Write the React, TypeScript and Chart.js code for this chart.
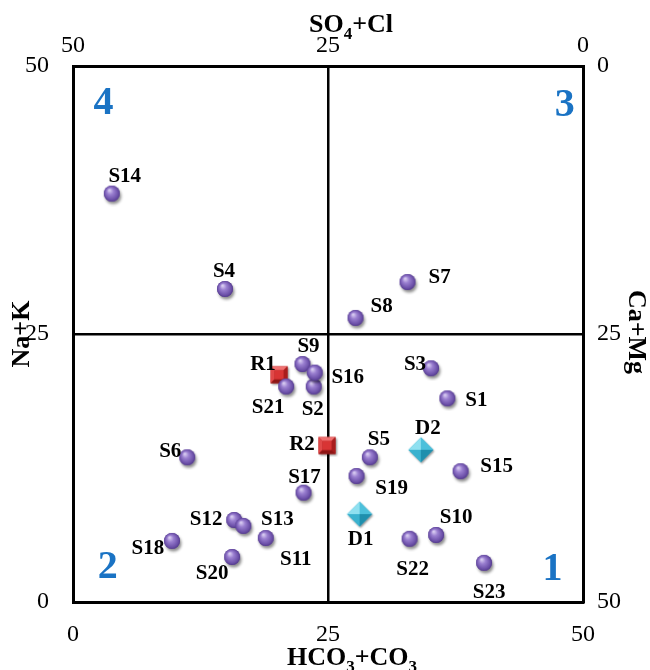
import React, { useEffect, useRef } from "react";
import { Chart, registerables } from "chart.js";

Chart.register(...registerables);

// ---- data ----
const sampleNames = ["S1","S2","S3","S4","S5","S6","S7","S8","S9","S10","S11","S12","S13","S14","S15","S16","S17","S18","S19","S20","S21","S22","S23"];
const sampleX = [36.7,23.6,35.1,14.9,29.1,11.2,32.8,27.7,22.5,35.6,18.9,15.8,16.7,3.8,38.0,23.7,22.6,9.7,27.8,15.6,20.9,33.0,40.3];
const sampleY = [19.0,20.1,21.8,29.2,13.5,13.5,29.85,26.5,22.2,6.25,5.97,7.65,7.1,38.1,12.2,21.4,10.2,5.7,11.75,4.2,20.1,5.9,3.65];
const riverNames = ["R1","R2"];
const riverX = [20.2,24.9];
const riverY = [21.2,14.6];
const drainNames = ["D1","D2"];
const drainX = [28.1,34.1];
const drainY = [8.2,14.2];
const tickValues = [0,25,50];
const quadrantNames = ["1","2","3","4"];

// label placement (pixel offsets of the label centre from its marker)
const labelOffsets: Record<string, [number, number]> = {
  S1:[29,2],S2:[-1,23],S3:[-16,-4],S4:[-1,-17],S5:[9,-18],S6:[-17,-6],S7:[32,-4],S8:[26,-11],
  S9:[6,-17],S10:[20,-17],S11:[30,22],S12:[-28,0],S13:[34,-6],S14:[13,-17],S15:[36,-5],S16:[33,5],
  S17:[1,-15],S18:[-24,8],S19:[35,13],S20:[-20,17],S21:[-18,21],S22:[3,31],S23:[5,30],
  R1:[-16,-10],R2:[-25,-1],D1:[1,25],D2:[7,-21],
};

const SERIF = '"Liberation Serif", "Times New Roman", serif';

function makeSphere(): HTMLCanvasElement {
  const c = document.createElement("canvas");
  c.width = 26; c.height = 26;
  const g = c.getContext("2d")!;
  g.save();
  g.shadowColor = "rgba(0,0,0,0.45)";
  g.shadowBlur = 3;
  g.shadowOffsetX = 1.5;
  g.shadowOffsetY = 2.5;
  g.beginPath();
  g.arc(13, 13, 8, 0, Math.PI * 2);
  g.fillStyle = "#6a4ea6";
  g.fill();
  g.restore();
  const grad = g.createRadialGradient(10.5, 9.5, 0.5, 13, 13, 8.5);
  grad.addColorStop(0, "#d9cdf2");
  grad.addColorStop(0.35, "#9a7fd0");
  grad.addColorStop(0.8, "#6b4fa8");
  grad.addColorStop(1, "#4d3582");
  g.beginPath();
  g.arc(13, 13, 8, 0, Math.PI * 2);
  g.fillStyle = grad;
  g.fill();
  return c;
}

function poly(g: CanvasRenderingContext2D, pts: number[][], col: string) {
  g.beginPath();
  g.moveTo(pts[0][0], pts[0][1]);
  for (let i = 1; i < pts.length; i++) g.lineTo(pts[i][0], pts[i][1]);
  g.closePath();
  g.fillStyle = col;
  g.fill();
}

function makeSquare(): HTMLCanvasElement {
  const c = document.createElement("canvas");
  c.width = 24; c.height = 24;
  const g = c.getContext("2d")!;
  const s = 17, o = 3.5;
  g.save();
  g.shadowColor = "rgba(0,0,0,0.4)";
  g.shadowBlur = 2;
  g.shadowOffsetX = 1;
  g.shadowOffsetY = 1.5;
  g.fillStyle = "#b32424";
  g.fillRect(o, o, s, s);
  g.restore();
  const inset = 4;
  const a = o, b = o + s;
  poly(g, [[a,a],[b,a],[b-inset,a+inset],[a+inset,a+inset]], "#f07070");
  poly(g, [[a,a],[a+inset,a+inset],[a+inset,b-inset],[a,b]], "#e04848");
  poly(g, [[b,a],[b,b],[b-inset,b-inset],[b-inset,a+inset]], "#a81c1c");
  poly(g, [[a,b],[a+inset,b-inset],[b-inset,b-inset],[b,b]], "#8e1515");
  g.fillStyle = "#d83434";
  g.fillRect(a + inset, a + inset, s - 2 * inset, s - 2 * inset);
  return c;
}

function makeDiamond(): HTMLCanvasElement {
  const c = document.createElement("canvas");
  c.width = 30; c.height = 30;
  const g = c.getContext("2d")!;
  const cx = 15, cy = 15, r = 12.5;
  g.save();
  g.shadowColor = "rgba(0,0,0,0.4)";
  g.shadowBlur = 2;
  g.shadowOffsetX = 1;
  g.shadowOffsetY = 1.5;
  g.beginPath();
  g.moveTo(cx, cy - r); g.lineTo(cx + r, cy); g.lineTo(cx, cy + r); g.lineTo(cx - r, cy); g.closePath();
  g.fillStyle = "#2aa6c4";
  g.fill();
  g.restore();
  poly(g, [[cx,cy-r],[cx-r,cy],[cx,cy]], "#8fe0f0");
  poly(g, [[cx,cy-r],[cx+r,cy],[cx,cy]], "#4cc0db");
  poly(g, [[cx-r,cy],[cx,cy+r],[cx,cy]], "#3ab2cf");
  poly(g, [[cx+r,cy],[cx,cy+r],[cx,cy]], "#1f8fad");
  return c;
}

type Seg = { t: string; sub?: boolean };

function drawRich(ctx: CanvasRenderingContext2D, segs: Seg[], size: number) {
  const main = `bold ${size}px ${SERIF}`;
  const sub = `bold ${Math.round(size * 0.66)}px ${SERIF}`;
  let total = 0;
  for (const s of segs) { ctx.font = s.sub ? sub : main; total += ctx.measureText(s.t).width; }
  let x = -total / 2;
  ctx.textBaseline = "alphabetic";
  ctx.textAlign = "left";
  for (const s of segs) {
    ctx.font = s.sub ? sub : main;
    ctx.fillText(s.t, x, s.sub ? size * 0.62 : size * 0.35);
    x += ctx.measureText(s.t).width;
  }
}

const labelsPlugin = {
  id: "pointLabels",
  afterDatasetsDraw(chart: any) {
    const ctx = chart.ctx as CanvasRenderingContext2D;
    ctx.save();
    ctx.fillStyle = "#000";
    ctx.font = `bold 21px ${SERIF}`;
    ctx.textAlign = "center";
    ctx.textBaseline = "middle";
    chart.data.datasets.forEach((ds: any, di: number) => {
      const meta = chart.getDatasetMeta(di);
      meta.data.forEach((el: any, i: number) => {
        const name = ds.names[i];
        const off = labelOffsets[name] || [0, -15];
        ctx.fillText(name, el.x + off[0], el.y + off[1]);
      });
    });
    ctx.restore();
  },
};

const decorPlugin = {
  id: "decor",
  afterDraw(chart: any) {
    const ctx = chart.ctx as CanvasRenderingContext2D;
    const xs = chart.scales.x, ys = chart.scales.y;
    ctx.save();
    // quadrant numbers
    ctx.fillStyle = "#1a73c4";
    ctx.font = `bold 40px ${SERIF}`;
    ctx.textAlign = "center";
    ctx.textBaseline = "middle";
    const qpos: Record<string, [number, number]> = {
      "1": [47.0, 3.0], "2": [3.4, 3.2], "3": [48.2, 46.3], "4": [3.0, 46.5],
    };
    quadrantNames.forEach((q) => {
      const p = qpos[q];
      ctx.fillText(q, xs.getPixelForValue(p[0]), ys.getPixelForValue(p[1]));
    });
    // axis titles
    ctx.fillStyle = "#000";
    ctx.save();
    ctx.translate(352, 656);
    drawRich(ctx, [{ t: "HCO" }, { t: "3", sub: true }, { t: "+CO" }, { t: "3", sub: true }], 26);
    ctx.restore();
    ctx.save();
    ctx.translate(351, 23);
    drawRich(ctx, [{ t: "SO" }, { t: "4", sub: true }, { t: "+Cl" }], 26);
    ctx.restore();
    ctx.save();
    ctx.translate(20, 334);
    ctx.rotate(-Math.PI / 2);
    drawRich(ctx, [{ t: "Na+K" }], 26);
    ctx.restore();
    ctx.save();
    ctx.translate(638, 332);
    ctx.rotate(Math.PI / 2);
    drawRich(ctx, [{ t: "Ca+Mg" }], 26);
    ctx.restore();
    ctx.restore();
  },
};

const tickFont = { family: SERIF, size: 24 };

function fixedTicks(scale: any) {
  scale.ticks = tickValues.map((v) => ({ value: v }));
}

export default function App() {
  const ref = useRef<HTMLCanvasElement>(null);
  useEffect(() => {
    if (!ref.current) return;
    const sphere = makeSphere();
    const square = makeSquare();
    const diamond = makeDiamond();
    const crossGrid = {
      color: (c: any) => (c.tick && c.tick.value === 25 ? "#000" : "rgba(0,0,0,0)"),
      lineWidth: 2.5,
      drawTicks: false,
    };
    const chart = new Chart(ref.current, {
      type: "scatter",
      data: {
        datasets: [
          {
            label: "Samples",
            names: sampleNames,
            data: sampleX.map((x, i) => ({ x, y: sampleY[i] })),
            pointStyle: sphere,
            pointRadius: 9,
          } as any,
          {
            label: "River",
            names: riverNames,
            data: riverX.map((x, i) => ({ x, y: riverY[i] })),
            pointStyle: square,
            pointRadius: 9,
          } as any,
          {
            label: "Drain",
            names: drainNames,
            data: drainX.map((x, i) => ({ x, y: drainY[i] })),
            pointStyle: diamond,
            pointRadius: 12,
          } as any,
        ],
      },
      options: {
        responsive: false,
        animation: false,
        layout: { padding: 0 },
        plugins: { legend: { display: false }, tooltip: { enabled: false } },
        scales: {
          x: {
            type: "linear", position: "bottom", min: 0, max: 50,
            afterBuildTicks: fixedTicks,
            afterFit: (s: any) => { s.height = 68; },
            grid: crossGrid,
            border: { display: true, color: "#000", width: 3 },
            ticks: { color: "#000", font: tickFont, padding: 18, maxRotation: 0 },
          },
          x2: {
            type: "linear", position: "top", min: 0, max: 50, reverse: true,
            afterBuildTicks: fixedTicks,
            afterFit: (s: any) => { s.height = 66; },
            grid: { color: "rgba(0,0,0,0)", drawTicks: false },
            border: { display: true, color: "#000", width: 3 },
            ticks: { color: "#000", font: tickFont, padding: 6, maxRotation: 0 },
          },
          y: {
            type: "linear", position: "left", min: 0, max: 50,
            afterBuildTicks: fixedTicks,
            afterFit: (s: any) => { s.width = 73; },
            grid: crossGrid,
            border: { display: true, color: "#000", width: 3 },
            ticks: { color: "#000", font: tickFont, padding: 24 },
          },
          y2: {
            type: "linear", position: "right", min: 0, max: 50, reverse: true,
            afterBuildTicks: fixedTicks,
            afterFit: (s: any) => { s.width = 67; },
            grid: { color: "rgba(0,0,0,0)", drawTicks: false },
            border: { display: true, color: "#000", width: 3 },
            ticks: { color: "#000", font: tickFont, padding: 14 },
          },
        },
      } as any,
      plugins: [labelsPlugin, decorPlugin],
    });
    return () => chart.destroy();
  }, []);
  return (
    <div style={{ position: "fixed", left: 0, top: 0, width: 650, height: 670, background: "#fff" }}>
      <canvas ref={ref} width={650} height={670} style={{ width: 650, height: 670 }} />
    </div>
  );
}
